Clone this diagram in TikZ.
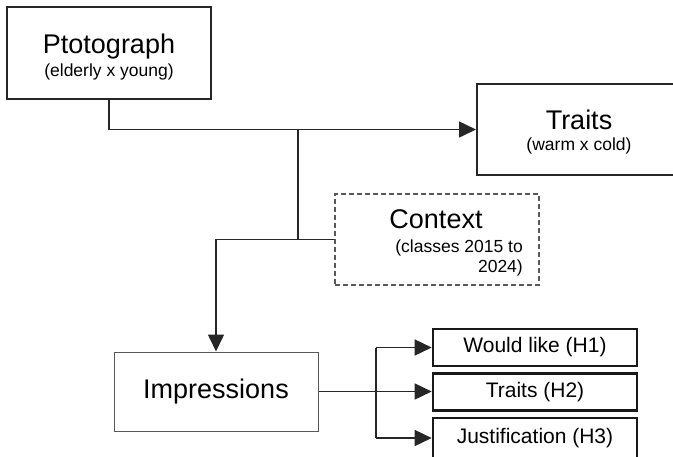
\documentclass[tikz,border=0pt]{standalone}
\usepackage{fontspec}
\setmainfont{Liberation Sans}
\usetikzlibrary{arrows.meta}
\begin{document}
\begin{tikzpicture}[x=1pt,y=-1pt,
  bigbox/.style={draw=black!85, line width=2pt, inner sep=0pt},
  thinbox/.style={draw=black!65, line width=1pt, inner sep=0pt},
  ctxbox/.style={draw=black!65, line width=1.1pt, dash pattern=on 5pt off 3pt, inner sep=0pt},
  hbox/.style={draw=black!90, line width=2.6pt, inner sep=0pt, minimum width=204pt, minimum height=37pt},
  bigtxt/.style={font=\fontsize{27}{32}\selectfont, inner sep=0pt, anchor=base},
  subtxt/.style={font=\fontsize{17.5}{21}\selectfont, inner sep=0pt},
  htxt/.style={font=\fontsize{21}{25}\selectfont},
  link/.style={draw=black!85, line width=1.6pt},
  arrow/.style={link, -{Triangle[length=17pt,width=16pt]}}
]
\useasboundingbox (0,0) rectangle (673,456);
\clip (0,0) rectangle (673,456);

% main boxes
\node[bigbox, minimum width=204pt, minimum height=92pt] (photo) at (109,53) {};
\node[bigbox, minimum width=213pt, minimum height=91pt] (traits) at (583.5,129.5) {};
\node[ctxbox, minimum width=204pt, minimum height=91pt] (context) at (437,239.5) {};
\node[thinbox, minimum width=204pt, minimum height=79pt,
      font=\fontsize{27}{32}\selectfont] (impr) at (216,391.5) {Impressions};

% hypothesis boxes
\node[hbox, htxt] (h1) at (535,347.5) {Would like (H1)};
\node[hbox, htxt] (h2) at (535,392) {Traits (H2)};
\node[hbox, htxt, minimum height=40pt] (h3) at (535,438) {Justification (H3)};

% box texts
\node[bigtxt] (photoT) at (109,53) {Ptotograph};
\node[subtxt, anchor=base] (photoS) at (109,76) {(elderly x young)};
\node[bigtxt] (traitsT) at (579,129) {Traits};
\node[subtxt, anchor=base] (traitsS) at (579,150) {(warm x cold)};
\node[bigtxt] (contextT) at (436,228) {Context};
\node[subtxt, anchor=base east] (contextS1) at (523,252) {(classes 2015 to};
\node[subtxt, anchor=base east] (contextS2) at (523,272) {2024)};

% connectors
\draw[arrow] (photo.south) |- (traits.west);
\coordinate (split) at (298,129.5);
\draw[link] (split) -- (split |- context.west);
\draw[arrow] (context.west) -| (impr.north);

\coordinate (fork) at (376,391.5);
\draw[arrow] (impr.east) -- (impr.east -| h2.west);
\draw[link] (fork |- h1.west) -- (fork |- h3.west);
\draw[arrow] (fork |- h1.west) -- (h1.west);
\draw[arrow] (fork |- h3.west) -- (h3.west);
\end{tikzpicture}
\end{document}
